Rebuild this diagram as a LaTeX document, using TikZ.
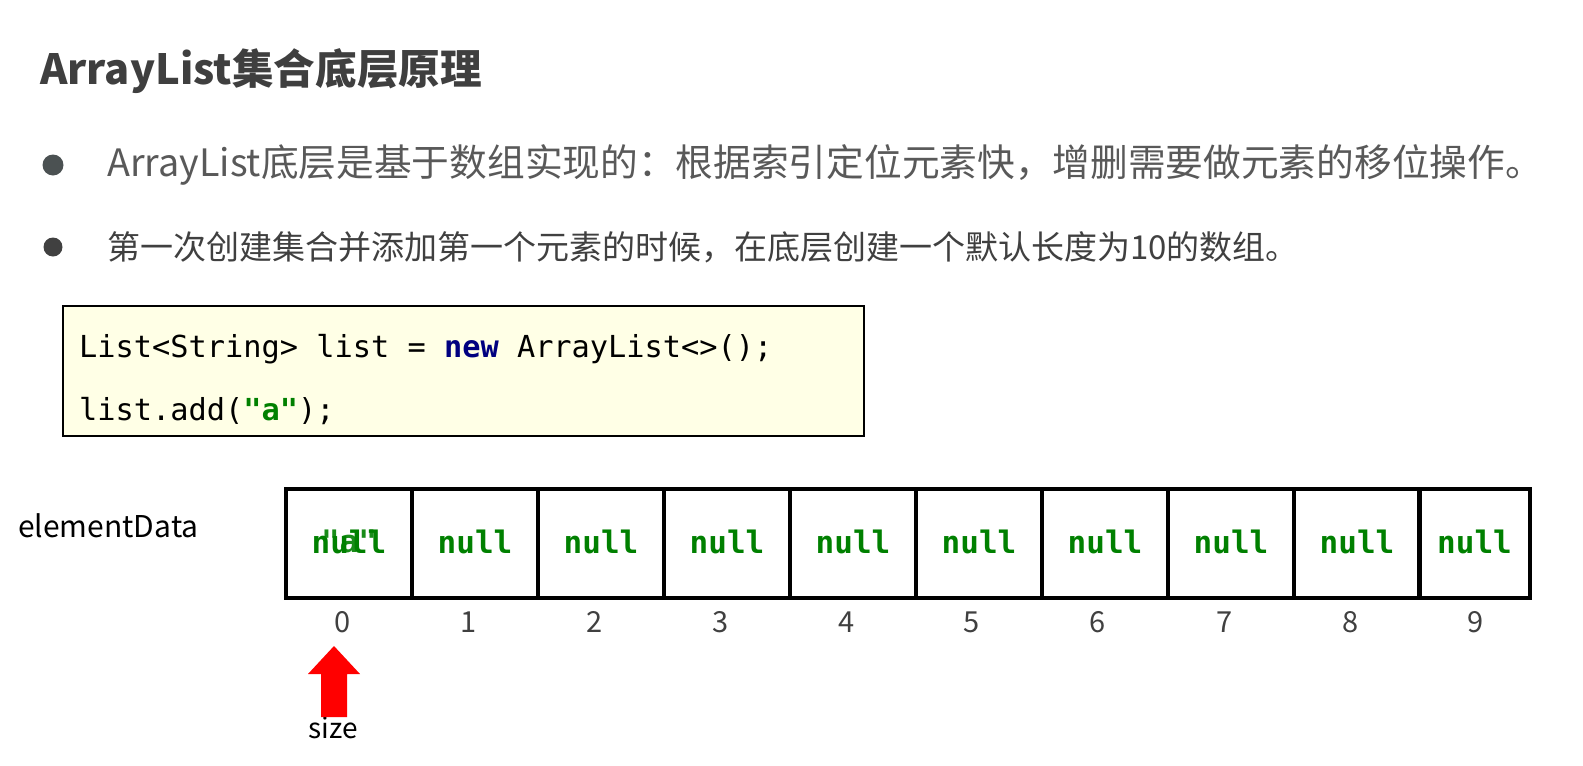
\documentclass[tikz,border=0pt]{standalone}
\usepackage{fontspec}
\setmainfont{Noto Sans CJK SC}
\setmonofont{DejaVu Sans Mono}
\definecolor{titlegray}{HTML}{3F3F3F}
\definecolor{textgray}{HTML}{595959}
\definecolor{dotgray}{HTML}{4B5152}
\definecolor{darkgray}{HTML}{404040}
\definecolor{codebg}{HTML}{FFFFE6}
\definecolor{keynavy}{HTML}{000080}
\definecolor{strgreen}{HTML}{008000}
\begin{document}
\begin{tikzpicture}[x=1pt,y=-1pt]
		\tikzstyle{cell}=[draw=black, line width=3.5pt, minimum width=126pt, minimum height=109pt, inner sep=0pt, text depth=4pt, text=strgreen, font=\ttfamily\bfseries\fontsize{31}{31}\selectfont];
		\tikzstyle{idx}=[text=darkgray, inner sep=0pt, font=\fontsize{29}{29}\selectfont];
		\tikzstyle{codeline}=[anchor=west, inner sep=0pt, font=\ttfamily\fontsize{30.3}{30.3}\selectfont];
		\tikzstyle{dot}=[circle, inner sep=0pt];

		\useasboundingbox (0,0) rectangle (1583,766);

		% title and bullets
		\node[anchor=west, inner sep=0pt, text=titlegray, font=\bfseries\fontsize{41.6}{42}\selectfont] (title) at (40,71) {ArrayList集合底层原理};
		\node[dot, fill=dotgray, minimum size=21pt] (d1) at (53,165) {};
		\node[anchor=west, inner sep=0pt, text=textgray, font=\fontsize{37.7}{38}\selectfont] (b1) at (107,165) {ArrayList底层是基于数组实现的：根据索引定位元素快，增删需要做元素的移位操作。};
		\node[dot, fill=darkgray, minimum size=19pt] (d2) at (53,247) {};
		\node[anchor=west, inner sep=0pt, text=darkgray, font=\fontsize{33}{33}\selectfont] (b2) at (107,247) {第一次创建集合并添加第一个元素的时候，在底层创建一个默认长度为10的数组。};

		% code
		\node[draw=black, line width=1.5pt, fill=codebg, minimum width=801pt, minimum height=130pt] (code) at (463.5,371) {};
		\node[codeline] (l1) at (79,349) {List<String> list = {\bfseries\color{keynavy}new} ArrayList<>();};
		\node[codeline] (l2) at (79,411) {list.add({\bfseries\color{strgreen}"a"});};

		% array
		\node[anchor=west, inner sep=0pt, font=\fontsize{30}{30}\selectfont] (name) at (18,526) {elementData};
		\node[cell] (c0) at (349,543.5) {null};
		\node[cell, text opacity=0.9] (a0) at (349,543.5) {"a"};
		\node[cell] (c1) at (475,543.5) {null};
		\node[cell] (c2) at (601,543.5) {null};
		\node[cell] (c3) at (727,543.5) {null};
		\node[cell] (c4) at (853,543.5) {null};
		\node[cell] (c5) at (979,543.5) {null};
		\node[cell] (c6) at (1105,543.5) {null};
		\node[cell] (c7) at (1231,543.5) {null};
		\node[cell] (c8) at (1357,543.5) {null};
		\node[cell, minimum width=111pt] (c9) at (1474.5,543.5) {null};

		\node[idx] (i0) at (343,622) {0};
		\node[idx] (i1) at (469,622) {1};
		\node[idx] (i2) at (595,622) {2};
		\node[idx] (i3) at (721,622) {3};
		\node[idx] (i4) at (847,622) {4};
		\node[idx] (i5) at (972,622) {5};
		\node[idx] (i6) at (1098,622) {6};
		\node[idx] (i7) at (1225,622) {7};
		\node[idx] (i8) at (1351,622) {8};
		\node[idx] (i9) at (1476,622) {9};

		% size pointer
		\node[inner sep=0pt, font=\fontsize{28}{28}\selectfont] (size) at (333,728) {size};
		\coordinate (tip) at (334,646);
		\fill[red] (tip) -- (360,674) -- (347,674) -- (347,717) -- (321,717) -- (321,674) -- (308,674) -- cycle;
\end{tikzpicture}
\end{document}
